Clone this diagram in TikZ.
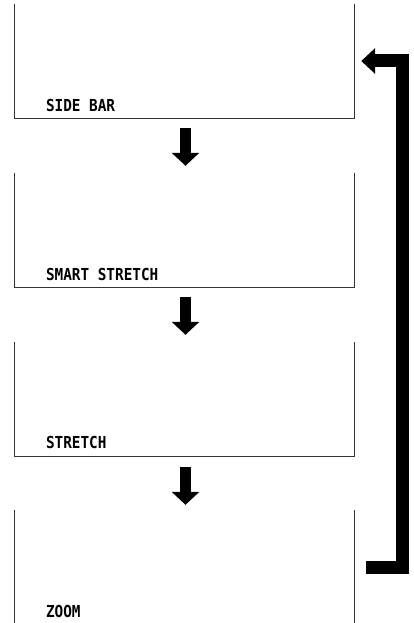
\documentclass[tikz,border=0pt]{standalone}
\usepackage{fontspec}
\newfontfamily\panelfont[FakeStretch=0.87]{DejaVu Sans Mono}
\usetikzlibrary{arrows.meta}
\tikzset{
  panel/.style={minimum width=340pt,minimum height=114pt,inner sep=0pt},
  panelline/.style={line width=0.8pt,black!80},
  modetext/.style={anchor=base west,inner sep=0pt,font=\panelfont\bfseries\fontsize{16.5}{18}\selectfont},
  downarrow/.style={line width=11pt,-{Triangle[width=27pt,length=13pt]}},
  backarrow/.style={line width=13pt,line join=miter,-{Triangle[width=25pt,length=14pt]}}
}
\begin{document}
\begin{tikzpicture}[x=1pt,y=1pt]
\useasboundingbox (0,0) rectangle (413,-623);

\node[panel] (b1) at (184.5,-61) {};
\node[panel] (b2) at (184.5,-230) {};
\node[panel] (b3) at (184.5,-399) {};
\node[panel] (b4) at (184.5,-567) {};

\draw[panelline] (b1.north west) -- (b1.south west) -- (b1.south east) -- (b1.north east);
\draw[panelline] (b2.north west) -- (b2.south west) -- (b2.south east) -- (b2.north east);
\draw[panelline] (b3.north west) -- (b3.south west) -- (b3.south east) -- (b3.north east);
\draw[panelline] (b4.north west) -- (b4.south west) (b4.south east) -- (b4.north east);

\node[modetext] (t1) at ([shift={(31.5,6.5)}]b1.south west) {SIDE BAR};
\node[modetext] (t2) at ([shift={(31.5,7)}]b2.south west) {SMART STRETCH};
\node[modetext] (t3) at ([shift={(31.5,7.5)}]b3.south west) {STRETCH};
\node[modetext] (t4) at ([shift={(31.5,7)}]b4.south west) {ZOOM};

\draw[downarrow] ([shift={(1,-10)}]b1.south) -- ([shift={(1,7)}]b2.north);
\draw[downarrow] ([shift={(1,-10)}]b2.south) -- ([shift={(1,7)}]b3.north);
\draw[downarrow] ([shift={(1,-11)}]b3.south) -- ([shift={(1,5)}]b4.north);

\draw[backarrow] ([xshift=11.5pt]b4.east) -- ++(36.5,0) |- ([xshift=6.5pt]b1.east);
\end{tikzpicture}
\end{document}
